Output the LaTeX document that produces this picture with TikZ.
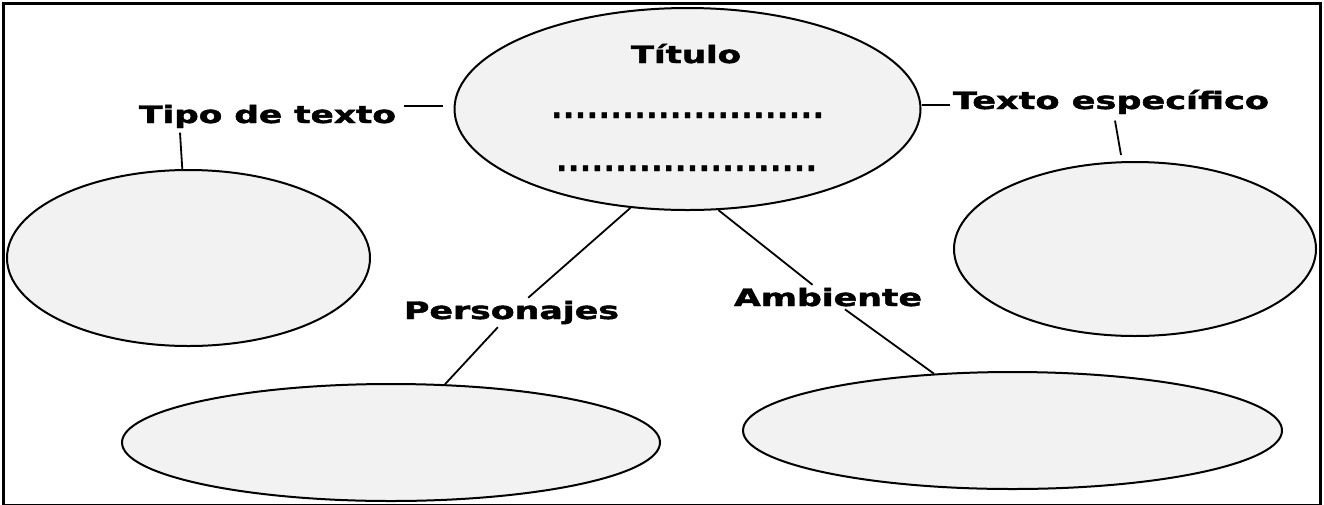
\documentclass[tikz,border=0pt]{standalone}
\usepackage{fontspec}
\setmainfont{DejaVu Sans}[BoldFeatures={FakeBold=1.6}]
\usepackage{graphicx}
\usetikzlibrary{shapes.geometric,calc}
\begin{document}
\begin{tikzpicture}[x=1pt,y=-1pt,
  blob/.style={ellipse, draw=black, line width=2pt, fill=black!5, inner sep=0pt},
  lbl/.style={inner sep=0pt, outer sep=3pt, anchor=base, font=\bfseries\fontsize{24}{24}\selectfont},
  dots/.style={inner sep=0pt, anchor=base, font=\bfseries\fontsize{28}{28}\selectfont},
  conn/.style={draw=black, line width=1.8pt}]
\useasboundingbox (0,0) rectangle (1324,504);
\fill[white] (0,0) rectangle (1324,504);
% ellipses
\node[blob, minimum width=466pt, minimum height=202pt] (main) at (687.5,109) {};
\node[blob, minimum width=363pt, minimum height=176pt] (tipo) at (188.5,258) {};
\node[blob, minimum width=362pt, minimum height=174pt] (esp) at (1135,249) {};
\node[blob, minimum width=538pt, minimum height=117pt] (pers) at (391,442.5) {};
\node[blob, minimum width=539pt, minimum height=117pt] (amb) at (1012.5,430.5) {};
% labels
\node[lbl] (ltit) at (686,63) {\resizebox{110pt}{\height}{Título}};
\node[dots] (d1) at (687.5,118) {.\kern1.25pt.\kern1.25pt.\kern1.25pt.\kern1.25pt.\kern1.25pt.\kern1.25pt.\kern1.25pt.\kern1.25pt.\kern1.25pt.\kern1.25pt.\kern1.25pt.\kern1.25pt.\kern1.25pt.\kern1.25pt.\kern1.25pt.\kern1.25pt.\kern1.25pt.\kern1.25pt.\kern1.25pt.\kern1.25pt.\kern1.25pt.\kern1.25pt.};
\node[dots] (d2) at (686.5,171) {.\kern1.25pt.\kern1.25pt.\kern1.25pt.\kern1.25pt.\kern1.25pt.\kern1.25pt.\kern1.25pt.\kern1.25pt.\kern1.25pt.\kern1.25pt.\kern1.25pt.\kern1.25pt.\kern1.25pt.\kern1.25pt.\kern1.25pt.\kern1.25pt.\kern1.25pt.\kern1.25pt.\kern1.25pt.\kern1.25pt.\kern1.25pt.};
\node[lbl] (ltipo) at (267.5,123) {\resizebox{257pt}{\height}{Tipo de texto}};
\node[lbl] (lesp) at (1111,109) {\resizebox{316pt}{\height}{Texto específico}};
\node[lbl] (lpers) at (511.5,319) {\resizebox{215pt}{\height}{Personajes}};
\node[lbl] (lamb) at (828,306) {\resizebox{188pt}{\height}{Ambiente}};
% connectors
\draw[conn, shorten >=11pt] ($(ltipo.north east)+(5,4.5)$) coordinate (t1) -- (t1 -| main.west);
\draw[conn] ($(ltipo.south west)+(44,1.6)$) -- (tipo.94);
\draw[conn] ([yshift=4pt]main.east) coordinate (t2) -- (t2 -| lesp.west);
\draw[conn] ($(lesp.south west)+(165,3.6)$) -- ($(esp.north)+(-14,-6)$);
\draw[conn] (main.240) -- (lpers);
\draw[conn] (lpers) -- (pers);
\draw[conn] (main.287) -- (lamb);
\draw[conn] (lamb) -- (amb);
% frame
\draw[line width=3.5pt] (3.5,3.5) rectangle (1320.5,506);
\end{tikzpicture}
\end{document}
